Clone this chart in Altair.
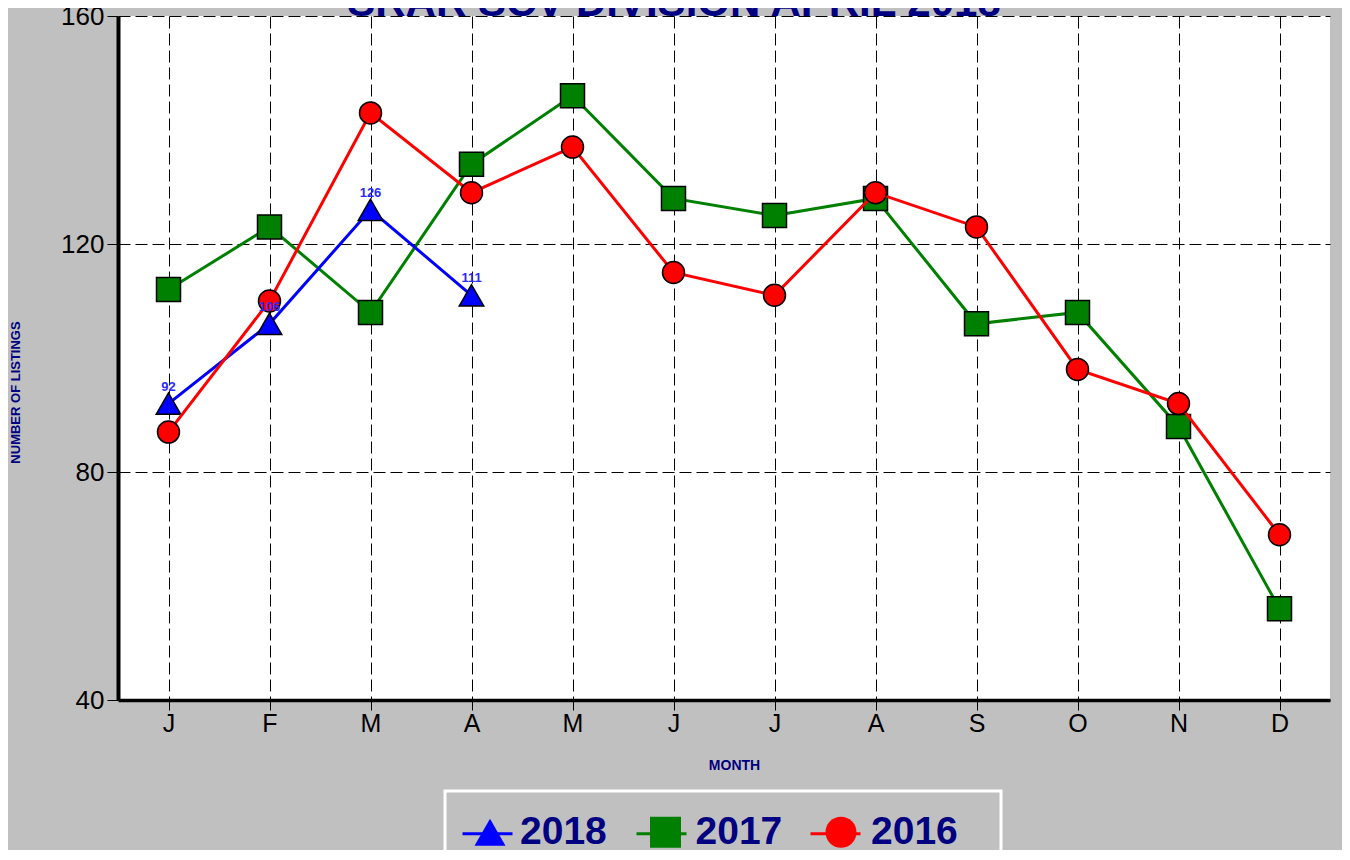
import altair as alt
import pandas as pd

# ---- data ----
months = ["Jan", "Feb", "Mar", "Apr", "May", "Jun",
          "Jul", "Aug", "Sep", "Oct", "Nov", "Dec"]
years = ["2018", "2017", "2016"]
v2018 = [92, 106, 126, 111]
v2017 = [112, 123, 108, 134, 146, 128, 125, 128, 106, 108, 88, 56]
v2016 = [87, 110, 143, 129, 137, 115, 111, 129, 123, 98, 92, 69]
colors = ["#0000ff", "#008000", "#ff0000"]
shapes = ["triangle-up", "square", "circle"]
y_ticks = [40, 80, 120, 160]
title_text = "SRAR SCV DIVISION APRIL 2018"

rows = []
for yr, vals in zip(years, [v2018, v2017, v2016]):
    for m, v in zip(months, vals):
        rows.append({"month": m, "year": yr, "ls": "L" + yr, "value": v})
df = pd.DataFrame(rows)

FONT = "Liberation Sans"
NAVY = "#000080"

x_enc = alt.X(
    "month:O", sort=months,
    scale=alt.Scale(type="point", padding=0.5),
    axis=alt.Axis(
        labelExpr="substring(datum.label, 0, 1)", labelAngle=0,
        labelFontSize=25, labelColor="black", labelPadding=1,
        grid=True, gridColor="black", gridDash=[12, 5], gridWidth=1,
        domainColor="black", domainWidth=3.5,
        tickColor="black", tickSize=10, tickWidth=1,
        title="MONTH", titleFontSize=14, titleFontWeight="bold", titleColor=NAVY,
        titleX=616, titleY=65, titleAlign="center", titleBaseline="middle",
    ),
)
y_enc = alt.Y(
    "value:Q",
    scale=alt.Scale(domain=[40, 160], nice=False, zero=False),
    axis=alt.Axis(
        values=y_ticks, labelFontSize=26, labelColor="black", labelPadding=3,
        grid=True, gridColor="black", gridDash=[12, 5], gridWidth=1,
        domainColor="black", domainWidth=4,
        tickColor="black", tickSize=11, tickWidth=1,
        title="NUMBER OF LISTINGS", titleFontSize=13, titleFontWeight="bold",
        titleColor=NAVY, titleAngle=270, titleX=-103, titleY=376,
        titleAlign="center", titleBaseline="middle",
    ),
)

LEG_X = 327
LEG_Y = 775
LAB_FS = 39

stroke_enc = alt.Stroke(
    "ls:N",
    scale=alt.Scale(domain=["L" + y for y in years], range=colors),
    legend=alt.Legend(
        orient="none", legendX=LEG_X, legendY=LEG_Y, direction="horizontal",
        title="W", titleOrient="right", titleOpacity=0, titleFontSize=20,
        titlePadding=7,
        symbolType="stroke", symbolSize=2500, symbolStrokeWidth=3,
        labelExpr="substring(datum.label, 1)", labelFontSize=LAB_FS,
        labelFontWeight="bold", labelOpacity=0, labelOffset=10,
        columnPadding=19, padding=16, strokeColor="white",
    ),
)
marker_legend = alt.Legend(
    orient="none", legendX=LEG_X + 9.5, legendY=LEG_Y + 5.5, direction="horizontal",
    title=None,
    symbolSize=961, symbolStrokeColor="black", symbolStrokeWidth=1.5,
    labelFontSize=LAB_FS, labelFontWeight="bold", labelColor=NAVY, labelOffset=10.5,
    columnPadding=38.5, padding=16,
)
fill_enc = alt.Fill("year:N", scale=alt.Scale(domain=years, range=colors),
                    legend=marker_legend)
shape_enc = alt.Shape("year:N", scale=alt.Scale(domain=years, range=shapes),
                      legend=marker_legend)

base = alt.Chart(df)
sizes = {"2018": 600, "2017": 576, "2016": 484}

layers = []
for yr in ["2017", "2018", "2016"]:
    sub = base.transform_filter(alt.datum.year == yr)
    layers.append(sub.mark_line(strokeWidth=3).encode(x=x_enc, y=y_enc, stroke=stroke_enc))
    layers.append(
        sub.mark_point(filled=True, stroke="black", strokeWidth=1.5, opacity=1,
                       size=sizes[yr])
        .encode(x=x_enc, y=y_enc, fill=fill_enc, shape=shape_enc)
    )

labels = (
    base.transform_filter(alt.datum.year == "2018")
    .mark_text(dy=-17, fontSize=13, fontWeight="bold", color="#2a2aff")
    .encode(x=x_enc, y=y_enc, text="value:Q")
)
layers.append(labels)

chart = (
    alt.layer(*layers)
    .properties(
        width=1212, height=684,
        padding={"left": 110, "top": 8, "right": 12, "bottom": 150},
        autosize=alt.AutoSizeParams(type="none"),
        background="#c0c0c0",
        title=alt.TitleParams(
            text=title_text, font=FONT, fontSize=42, fontWeight="bold",
            color=NAVY, anchor="middle", frame="group", dx=-50, offset=-55,
            baseline="alphabetic",
        ),
    )
    .configure(font=FONT)
    .configure_view(fill="white", strokeWidth=0)
    .configure_legend(strokeWidth=3, labelFont=FONT)
    .configure_axis(labelFont=FONT, titleFont=FONT)
)

chart.save("out.html", embed_options={"renderer": "svg", "actions": False})
